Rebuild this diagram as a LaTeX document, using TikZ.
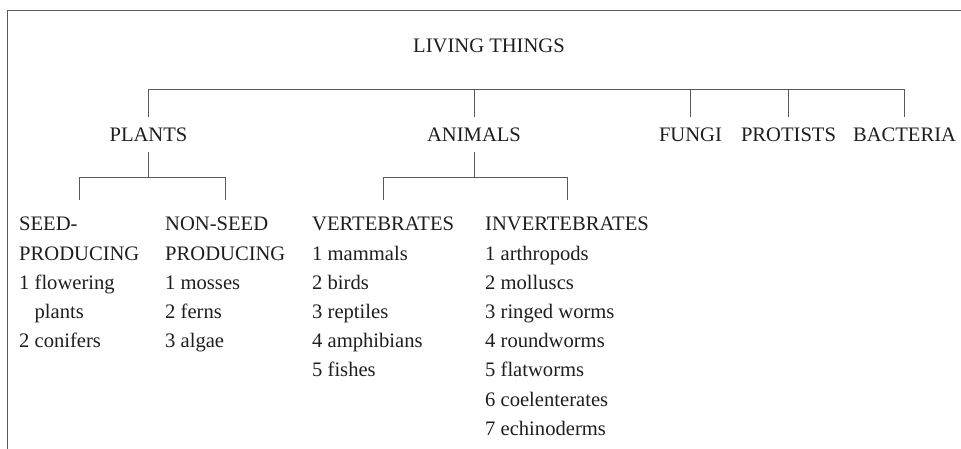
\documentclass[tikz,border=0pt]{standalone}
\usepackage{fontspec}
\setmainfont{Liberation Serif}
\definecolor{inkgray}{RGB}{30,30,30}
\definecolor{rulegray}{RGB}{90,90,90}

\begin{document}
\begin{tikzpicture}[x=1pt,y=-1pt,
  every node/.style={font=\fontsize{20.6}{29.2}\selectfont,text=inkgray},
  tier/.style={inner xsep=0pt,inner ysep=10pt,text height=15pt,text depth=0pt,anchor=base},
  column/.style={align=left,inner xsep=0pt,inner ysep=17pt,anchor=north west},
  link/.style={draw=rulegray,line width=0.8pt}]
\useasboundingbox (0,0) rectangle (961,449);
\draw[link] (7,449) -- (7,10) -- (961,10);
\node[anchor=base] (living) at (489,53) {LIVING THINGS};
\node[tier] (plants) at (148.5,142) {PLANTS};
\node[tier] (animals) at (474,142) {ANIMALS};
\node[tier] (fungi) at (690.5,142) {FUNGI};
\node[tier] (protists) at (788.5,142) {PROTISTS};
\node[tier] (bacteria) at (904.5,142) {BACTERIA};
\node[column] (seed) at (19,200) {SEED-\\PRODUCING\\1 flowering\\\hphantom{1}\ plants\\2 conifers};
\node[column] (nonseed) at (165,200) {NON-SEED\\PRODUCING\\1 mosses\\2 ferns\\3 algae};
\node[column] (vert) at (312,200) {VERTEBRATES\\1 mammals\\2 birds\\3 reptiles\\4 amphibians\\5 fishes};
\node[column] (invert) at (485,200) {INVERTEBRATES\\1 arthropods\\2 molluscs\\3 ringed worms\\4 roundworms\\5 flatworms\\6 coelenterates\\7 echinoderms};
\coordinate (rowA) at (0,89);
\coordinate (rowB) at (0,177);
\draw[link] (plants |- rowA) -- (bacteria |- rowA);
\foreach \kid in {plants,animals,fungi,protists,bacteria}
  \draw[link] (\kid |- rowA) -- (\kid);
\draw[link] (plants) -- (plants |- rowB);
\draw[link] (seed |- rowB) -- (nonseed |- rowB);
\draw[link] (seed |- rowB) -- (seed);
\draw[link] (nonseed |- rowB) -- (nonseed);
\draw[link] (animals) -- (animals |- rowB);
\draw[link] (vert |- rowB) -- (invert |- rowB);
\draw[link] (vert |- rowB) -- (vert);
\draw[link] (invert |- rowB) -- (invert);
\end{tikzpicture}
\end{document}
